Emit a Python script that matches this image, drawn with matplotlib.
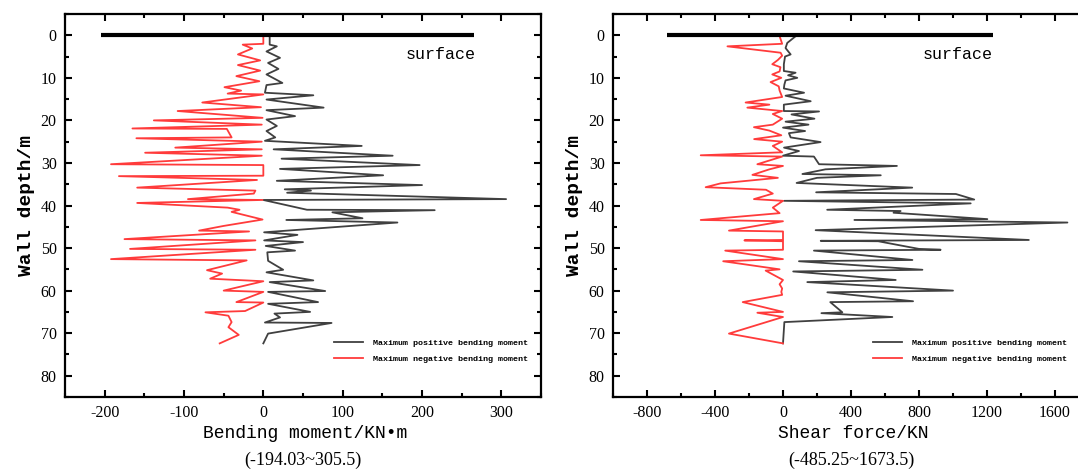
import matplotlib
matplotlib.use("Agg")
import matplotlib.pyplot as plt
from matplotlib.ticker import MultipleLocator

plt.rcParams["axes.unicode_minus"] = False

# bending moment, positive envelope (depth m, KN*m)
bm_pos_depth = [0.2, 2.2, 2.6, 3.8, 5.3, 6.5, 7.9, 9.2, 11.2, 11.7, 13.5, 14.1, 15.1, 17.0, 17.6,
                19.0, 19.8, 21.3, 22.5, 24.0, 24.8, 26.0, 26.8, 28.3, 29.0, 30.5, 31.4, 32.9, 34.2,
                35.2, 36.2, 36.5, 37.0, 38.5, 38.7, 41.0, 41.1, 41.6, 43.0, 43.4, 44.0, 46.3, 46.9,
                48.2, 48.6, 49.5, 50.6, 51.0, 53.0, 55.1, 55.7, 57.6, 58.0, 60.1, 60.3, 62.7, 63.1,
                65.0, 65.4, 66.3, 67.5, 67.6, 70.1, 72.4]
bm_pos_val = [8, 8, 17, 4, 21, 6, 19, 4, 24, 4, 2, 63, 4, 76, 4,
              40, 4, 17, 4, 15, 2, 124, 13, 163, 23, 197, 21, 151, 17,
              200, 27, 60, 30, 306, 0, 55, 216, 87, 125, 29, 169, 1, 43,
              1, 50, 3, 40, 5, 6, 25, 4, 63, 8, 78, 6, 69, 6,
              59, 14, 21, 2, 86, 6, 0]

# bending moment, negative envelope
bm_neg_depth = [0.2, 2.0, 2.2, 3.1, 4.5, 5.9, 7.0, 8.3, 9.6, 10.8, 12.2, 13.0, 13.7, 13.9, 15.8,
                16.9, 17.8, 19.4, 20.0, 21.0, 21.9, 22.0, 24.0, 24.2, 25.0, 26.4, 26.8, 27.6, 28.3,
                30.3, 30.5, 33.0, 33.1, 34.0, 35.8, 36.5, 37.2, 38.5, 38.7, 39.4, 40.5, 41.0, 41.5,
                43.3, 44.8, 45.9, 46.1, 47.9, 48.2, 50.2, 50.4, 52.6, 52.9, 55.2, 56.0, 57.2, 57.8,
                60.0, 60.3, 62.7, 62.8, 64.8, 65.1, 65.9, 67.4, 68.6, 70.4, 72.4]
bm_neg_val = [0, 0, -26, -14, -32, -4, -32, -4, -34, -5, -49, -28, -45, 0, -77,
              -3, -108, -1, -138, -2, -165, -46, -40, -160, -2, -111, -2, -149, -2,
              -192, 0, 0, -182, -8, -159, -10, -12, -95, -1, -159, -45, -30, -40,
              -1, -50, -81, -18, -175, -10, -168, -10, -192, -21, -71, -52, -67, 0,
              -50, 0, -34, 0, -23, -73, -44, -40, -44, -31, -55]

# shear force, positive envelope (KN)
sf_pos_depth = [0.2, 1.8, 3.0, 4.5, 5.0, 6.8, 8.4, 8.8, 9.4, 10.0, 10.6, 11.6, 12.5, 13.5, 14.2,
                15.5, 16.3, 17.8, 17.9, 18.6, 19.6, 20.3, 21.0, 21.7, 22.5, 23.0, 24.0, 25.1, 26.4,
                27.2, 28.3, 28.5, 30.3, 30.7, 31.5, 32.6, 32.9, 33.5, 34.7, 35.8, 36.9, 37.3, 38.6,
                38.9, 39.5, 41.0, 41.3, 41.7, 43.2, 43.4, 44.0, 45.8, 48.1, 48.3, 48.4, 50.2, 50.4,
                50.6, 52.8, 53.1, 55.1, 55.5, 57.5, 58.0, 60.0, 60.4, 62.5, 62.7, 65.1, 65.3, 66.2,
                67.4, 72.4]
sf_pos_val = [75, 25, 15, 45, 12, 5, 5, 74, 30, 84, 15, 8, 5, 124, 15,
              163, 5, 5, 212, 50, 185, 15, 150, 0, 130, 35, 45, 221, 6,
              94, 0, 182, 212, 670, 250, 114, 575, 200, 80, 760, 195, 1017, 1125,
              6, 1104, 260, 692, 650, 1202, 420, 1673, 192, 1446, 222, 560, 800, 927,
              182, 761, 94, 820, 60, 663, 143, 1000, 261, 765, 278, 349, 226, 643,
              8, 0]

# shear force, negative envelope
sf_neg_depth = [0.2, 2.0, 2.6, 4.1, 4.8, 5.8, 6.8, 7.5, 8.5, 9.2, 10.0, 11.0, 12.0, 13.0, 14.5,
                15.8, 16.3, 17.0, 17.8, 18.5, 19.6, 21.0, 21.6, 22.4, 23.5, 24.4, 25.0, 26.0, 27.5,
                28.2, 28.5, 30.3, 30.7, 31.5, 32.8, 33.5, 34.8, 35.7, 36.3, 37.2, 38.5, 38.9, 40.5,
                41.8, 43.4, 43.7, 45.9, 46.1, 48.1, 48.2, 48.4, 50.4, 50.6, 52.6, 53.1, 55.0, 55.3,
                57.5, 58.5, 59.5, 60.3, 61.0, 62.7, 65.0, 65.2, 66.2, 70.1, 72.4]
sf_neg_val = [-20, -5, -327, -14, -5, -30, -63, -15, -20, -63, -10, -73, -25, -20, -5,
              -220, -80, -210, -5, -60, -5, -60, -171, -80, -10, -170, -5, -60, -5,
              -484, -5, -151, 0, -80, -180, -30, -367, -455, -100, -60, -171, 0, -60,
              -20, -484, 0, -318, 0, 0, -227, 0, 0, -340, 0, -352, -20, -102,
              0, -20, -5, -10, -5, -237, 0, -151, 0, -318, 0]

mono = "Liberation Mono"
serif = "Liberation Serif"
dark = "#404040"
red = "#ff3b3b"

fig = plt.figure(figsize=(10.78, 4.71), dpi=100)
ax1 = fig.add_axes([65 / 1078, 1 - 397 / 471, 476 / 1078, 383 / 471])
ax2 = fig.add_axes([613 / 1078, 1 - 397 / 471, 476 / 1078, 383 / 471])

panels = [
    (ax1, bm_pos_depth, bm_pos_val, bm_neg_depth, bm_neg_val, (-250, 350), 100, 50,
     (-205, 265), 267, "Bending moment/KN\u2022m", "(-194.03~305.5)", 0.565),
    (ax2, sf_pos_depth, sf_pos_val, sf_neg_depth, sf_neg_val, (-1000, 1800), 400, 200,
     (-680, 1235), 1232, "Shear force/KN", "(-485.25~1673.5)", 0.546),
]

for ax, pd_, pv, nd, nv, xlim, major, minor, surf, surf_x, xlabel, rng, leg_x in panels:
    ax.plot(pv, pd_, color=dark, lw=1.3, label="Maximum positive bending moment")
    ax.plot(nv, nd, color=red, lw=1.3, label="Maximum negative bending moment")
    ax.plot(surf, [0, 0], color="black", lw=3, solid_capstyle="butt")
    ax.text(surf_x, 4.6, "surface", family=mono, fontsize=12, ha="right", va="center")

    ax.set_xlim(*xlim)
    ax.set_ylim(85, -5)
    ax.xaxis.set_major_locator(MultipleLocator(major))
    ax.xaxis.set_minor_locator(MultipleLocator(minor))
    ax.yaxis.set_major_locator(MultipleLocator(10))
    ax.yaxis.set_minor_locator(MultipleLocator(5))
    ax.tick_params(which="both", direction="in", top=True, right=True, width=1.5)
    ax.tick_params(which="major", length=5, labelsize=11.5, pad=6)
    ax.tick_params(which="minor", length=3)
    for lab in ax.get_xticklabels() + ax.get_yticklabels():
        lab.set_family(serif)
    for sp in ax.spines.values():
        sp.set_linewidth(1.6)

    ax.set_ylabel("Wall depth/m", family=mono, fontsize=14, fontweight="bold", labelpad=4)
    ax.text(0.505, -0.094, xlabel, family=mono, fontsize=13, ha="center", va="center",
            transform=ax.transAxes)
    ax.text(0.5, -0.165, rng, family=serif, fontsize=13, ha="center", va="center",
            transform=ax.transAxes)

    ax.legend(loc="upper left", bbox_to_anchor=(leg_x, 0.15), frameon=False,
              prop={"family": mono, "size": 6.0, "weight": "bold"},
              handlelength=3.5, handletextpad=1.2, labelspacing=0.95,
              borderpad=0, borderaxespad=0)

fig.savefig("out.png", dpi=100)
